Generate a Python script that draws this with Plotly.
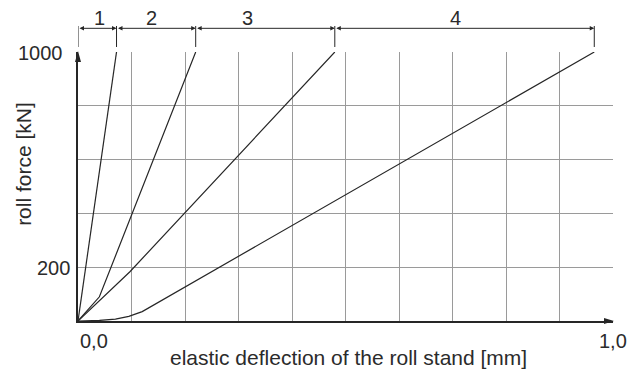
import plotly.graph_objects as go

# ---- data ----
curve1_x = [0.0, 0.072]
curve1_y = [0, 1000]
curve2_x = [0.0, 0.040, 0.220]
curve2_y = [0, 90, 1000]
curve3_x = [0.0, 0.097, 0.480]
curve3_y = [0, 183, 1000]
curve4_x = [0.0, 0.040, 0.070, 0.095, 0.120, 0.965]
curve4_y = [0, 2, 7, 17, 35, 1000]

zone_labels = ["1", "2", "3", "4"]
xtick_vals = [0.0, 1.0]
xtick_text = ["0,0", "1,0"]
ytick_vals = [200, 1000]
ytick_text = ["200", "1000"]

x_title = "elastic deflection of the roll stand [mm]"
y_title = "roll force [kN]"

# ---- style ----
FONT = "Liberation Sans, Arial, sans-serif"
TXT = "#2b2b2b"
LINE = "#262626"
GRID = "#9a9a9a"

curves = [(curve1_x, curve1_y), (curve2_x, curve2_y), (curve3_x, curve3_y), (curve4_x, curve4_y)]

fig = go.Figure()
for cx, cy in curves:
    fig.add_trace(go.Scatter(x=cx, y=cy, mode="lines",
                             line=dict(color=LINE, width=1.2),
                             showlegend=False, hoverinfo="skip"))

annotations = []
shapes = []

# dimension chain at the top
bounds = [0.0] + [c[0][-1] for c in curves]
label_x = [0.041, 0.138, 0.316, 0.705]   # label positions along the chain
DIM_Y = 1.088
for i in range(len(zone_labels)):
    annotations.append(dict(x=bounds[i + 1], y=DIM_Y, xref="x", yref="paper",
                            ax=bounds[i], ay=0, axref="x", ayref="pixel",
                            text="", showarrow=True, arrowhead=2, startarrowhead=2,
                            arrowside="end+start", arrowsize=0.9, startarrowsize=0.9,
                            arrowwidth=1, arrowcolor=LINE))
    annotations.append(dict(x=label_x[i], y=1.126, xref="x", yref="paper",
                            text=zone_labels[i], showarrow=False,
                            font=dict(family=FONT, size=20, color=TXT),
                            xanchor="center", yanchor="middle"))
for b in bounds:
    shapes.append(dict(type="line", xref="x", yref="paper", x0=b, x1=b,
                       y0=1.0186, y1=1.0967, line=dict(color=LINE, width=1)))

# axis arrows
shapes.append(dict(type="path", xref="paper", yref="paper", xsizemode="pixel", ysizemode="pixel",
                   xanchor=0, yanchor=1, path="M0,1 L-3,-10 L3,-10 Z",
                   fillcolor=LINE, line=dict(width=0)))
shapes.append(dict(type="path", xref="paper", yref="paper", xsizemode="pixel", ysizemode="pixel",
                   xanchor=1, yanchor=0, path="M1,0 L-9,3 L-9,-3 Z",
                   fillcolor=LINE, line=dict(width=0)))

# tick labels
yshift_x = {200: -6, 1000: -13}
for v, t in zip(ytick_vals, ytick_text):
    annotations.append(dict(x=0, y=v, xref="x", yref="y", text=t, showarrow=False,
                            xanchor="right", yanchor="middle", xshift=yshift_x[v], yshift=-1,
                            font=dict(family=FONT, size=20, color=TXT)))
for v, t in zip(xtick_vals, xtick_text):
    annotations.append(dict(x=v, y=-0.0725, xref="x", yref="paper", text=t, showarrow=False,
                            xanchor="left" if v == 0 else "center", yanchor="middle",
                            font=dict(family=FONT, size=20, color=TXT)))

# axis titles
annotations.append(dict(x=0.5065, y=-0.1375, xref="paper", yref="paper", text=x_title,
                        showarrow=False, xanchor="center", yanchor="middle",
                        font=dict(family=FONT, size=21, color=TXT)))
annotations.append(dict(x=-0.101, y=0.584, xref="paper", yref="paper", text=y_title,
                        showarrow=False, xanchor="center", yanchor="middle", textangle=-90,
                        font=dict(family=FONT, size=21, color=TXT)))

fig.update_layout(
    width=641, height=373,
    margin=dict(l=78, r=28, t=52, b=52),
    paper_bgcolor="white", plot_bgcolor="white",
    showlegend=False,
    annotations=annotations, shapes=shapes,
    xaxis=dict(range=[0, 1], dtick=0.1, tick0=0, showticklabels=False, ticks="",
               showgrid=True, gridcolor=GRID, gridwidth=1, zeroline=False,
               showline=True, linecolor=LINE, linewidth=1.5, fixedrange=True),
    yaxis=dict(range=[0, 1000], dtick=200, tick0=0, showticklabels=False, ticks="",
               showgrid=True, gridcolor=GRID, gridwidth=1, zeroline=False,
               showline=True, linecolor=LINE, linewidth=1.5, fixedrange=True),
)

fig.write_html("out.html", config={"displayModeBar": False},
               post_script="document.body.style.margin='0';document.body.style.overflow='hidden';")
